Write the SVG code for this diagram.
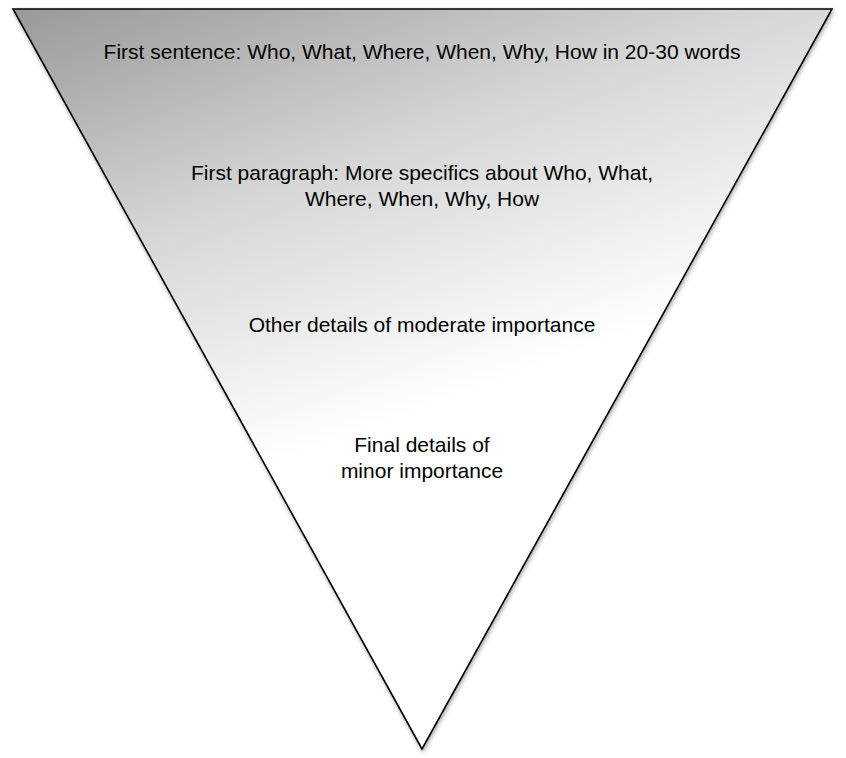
<svg xmlns="http://www.w3.org/2000/svg" width="846" height="758" viewBox="0 0 846 758">
  <style>
    .lbl { font-family: "Liberation Sans", Arial, Helvetica, sans-serif; font-size: 21px; fill: #000; text-anchor: middle; }
  </style>
  <defs>
    <linearGradient id="funnelFill" gradientUnits="userSpaceOnUse" x1="13" y1="9" x2="190" y2="495">
      <stop offset="0" stop-color="#999999"/>
      <stop offset="0.5" stop-color="#d6d6d6"/>
      <stop offset="1" stop-color="#ffffff"/>
    </linearGradient>
    <filter id="shadow" x="-5%" y="-5%" width="110%" height="110%">
      <feDropShadow dx="1" dy="2" stdDeviation="2" flood-color="#000" flood-opacity="0.35"/>
    </filter>
  </defs>
  <rect width="846" height="758" fill="#fff"/>
  <g id="funnel">
    <polygon points="13,9 832,9 422,749" fill="url(#funnelFill)" stroke="#000" stroke-width="1.6" stroke-linejoin="miter" filter="url(#shadow)"/>
  </g>
  <g id="level1">
    <text class="lbl" x="422" y="59">First sentence: Who, What, Where, When, Why, How in 20-30 words</text>
  </g>
  <g id="level2">
    <text class="lbl" x="422" y="180">First paragraph: More specifics about Who, What,</text>
    <text class="lbl" x="422" y="206">Where, When, Why, How</text>
  </g>
  <g id="level3">
    <text class="lbl" x="422" y="332">Other details of moderate importance</text>
  </g>
  <g id="level4">
    <text class="lbl" x="422" y="452">Final details of</text>
    <text class="lbl" x="422" y="478">minor importance</text>
  </g>
</svg>
